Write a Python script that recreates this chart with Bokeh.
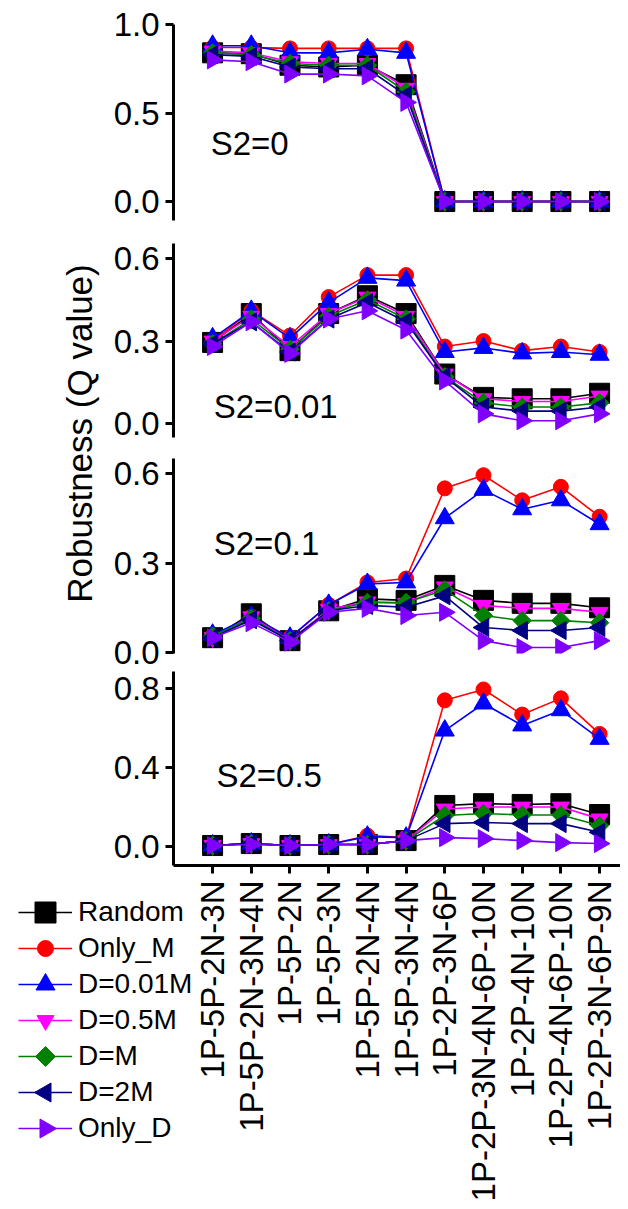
import math
from bokeh.plotting import figure
from bokeh.models import Range1d, FixedTicker, NumeralTickFormatter, Label, Legend, LegendItem
from bokeh.core.properties import value
from bokeh.layouts import column, row
from bokeh.embed import file_html
from bokeh.resources import INLINE

# ---------------- data ----------------
categories = ["1P-5P-2N-3N", "1P-5P-2N-3N-4N", "1P-5P-2N", "1P-5P-3N", "1P-5P-2N-4N",
              "1P-5P-3N-4N", "1P-2P-3N-6P", "1P-2P-3N-4N-6P-10N", "1P-2P-4N-10N",
              "1P-2P-4N-6P-10N", "1P-2P-3N-6P-9N"]
series_names = ["Random", "Only_M", "D=0.01M", "D=0.5M", "D=M", "D=2M", "Only_D"]
panel_titles = ["S2=0", "S2=0.01", "S2=0.1", "S2=0.5"]
y_label = "Robustness (Q value)"

# S2 = 0
random_s0 = [0.84, 0.835, 0.77, 0.76, 0.77, 0.66, 0, 0, 0, 0, 0]
only_m_s0 = [0.87, 0.87, 0.865, 0.865, 0.865, 0.865, 0, 0, 0, 0, 0]
d001m_s0 = [0.88, 0.88, 0.84, 0.84, 0.86, 0.84, 0, 0, 0, 0, 0]
d05m_s0 = [0.85, 0.84, 0.79, 0.78, 0.78, 0.64, 0, 0, 0, 0, 0]
dm_s0 = [0.84, 0.83, 0.78, 0.77, 0.77, 0.62, 0, 0, 0, 0, 0]
d2m_s0 = [0.83, 0.82, 0.76, 0.75, 0.75, 0.60, 0, 0, 0, 0, 0]
only_d_s0 = [0.80, 0.79, 0.72, 0.72, 0.71, 0.56, 0, 0, 0, 0, 0]

# S2 = 0.01
random_s1 = [0.295, 0.40, 0.265, 0.40, 0.465, 0.40, 0.18, 0.095, 0.09, 0.09, 0.11]
only_m_s1 = [0.30, 0.41, 0.32, 0.46, 0.54, 0.54, 0.28, 0.30, 0.265, 0.28, 0.26]
d001m_s1 = [0.31, 0.41, 0.31, 0.44, 0.53, 0.52, 0.26, 0.275, 0.255, 0.26, 0.25]
d05m_s1 = [0.30, 0.39, 0.28, 0.40, 0.46, 0.39, 0.18, 0.09, 0.08, 0.08, 0.10]
dm_s1 = [0.29, 0.38, 0.27, 0.39, 0.45, 0.38, 0.17, 0.075, 0.06, 0.06, 0.075]
d2m_s1 = [0.29, 0.37, 0.26, 0.38, 0.44, 0.37, 0.17, 0.06, 0.045, 0.045, 0.06]
only_d_s1 = [0.28, 0.37, 0.255, 0.38, 0.41, 0.34, 0.155, 0.035, 0.01, 0.01, 0.035]

# S2 = 0.1
random_s2 = [0.05, 0.13, 0.04, 0.14, 0.18, 0.175, 0.225, 0.175, 0.165, 0.165, 0.15]
only_m_s2 = [0.055, 0.12, 0.05, 0.16, 0.235, 0.248, 0.55, 0.594, 0.51, 0.555, 0.455]
d001m_s2 = [0.06, 0.12, 0.05, 0.16, 0.23, 0.235, 0.45, 0.545, 0.48, 0.51, 0.43]
d05m_s2 = [0.05, 0.12, 0.04, 0.145, 0.17, 0.165, 0.22, 0.158, 0.148, 0.148, 0.135]
dm_s2 = [0.055, 0.115, 0.04, 0.14, 0.168, 0.168, 0.21, 0.124, 0.107, 0.107, 0.10]
d2m_s2 = [0.05, 0.11, 0.04, 0.14, 0.158, 0.152, 0.19, 0.084, 0.074, 0.074, 0.084]
only_d_s2 = [0.05, 0.10, 0.035, 0.135, 0.148, 0.124, 0.135, 0.04, 0.017, 0.017, 0.04]

# S2 = 0.5
random_s3 = [0.005, 0.015, 0.005, 0.01, 0.01, 0.03, 0.208, 0.217, 0.213, 0.217, 0.162]
only_m_s3 = [0.005, 0.015, 0.005, 0.01, 0.055, 0.045, 0.74, 0.795, 0.668, 0.75, 0.57]
d001m_s3 = [0.005, 0.015, 0.005, 0.01, 0.05, 0.045, 0.587, 0.724, 0.613, 0.69, 0.545]
d05m_s3 = [0.005, 0.015, 0.005, 0.01, 0.01, 0.03, 0.19, 0.20, 0.20, 0.20, 0.14]
dm_s3 = [0.005, 0.015, 0.005, 0.01, 0.01, 0.03, 0.157, 0.167, 0.16, 0.16, 0.106]
d2m_s3 = [0.005, 0.015, 0.005, 0.01, 0.01, 0.03, 0.116, 0.122, 0.116, 0.116, 0.072]
only_d_s3 = [0.005, 0.01, 0.005, 0.01, 0.01, 0.03, 0.045, 0.04, 0.03, 0.02, 0.015]

yticks_s0 = [0.0, 0.5, 1.0]
yticks_s1 = [0.0, 0.3, 0.6]
yticks_s2 = [0.0, 0.3, 0.6]
yticks_s3 = [0.0, 0.4, 0.8]

panel_values = [
    [random_s0, only_m_s0, d001m_s0, d05m_s0, dm_s0, d2m_s0, only_d_s0],
    [random_s1, only_m_s1, d001m_s1, d05m_s1, dm_s1, d2m_s1, only_d_s1],
    [random_s2, only_m_s2, d001m_s2, d05m_s2, dm_s2, d2m_s2, only_d_s2],
    [random_s3, only_m_s3, d001m_s3, d05m_s3, dm_s3, d2m_s3, only_d_s3],
]
panel_ticks = [yticks_s0, yticks_s1, yticks_s2, yticks_s3]

# ---------------- styles / layout ----------------
FONT = "Liberation Sans"
colors = ["#000000", "#FF0000", "#0000FF", "#FF00FF", "#008000", "#000080", "#8000FF"]
markers = ["square", "circle", "triangle", "inverted_triangle", "square", "triangle", "triangle"]
marker_sizes = [20, 15, 19, 17, 13, 18, 18]
marker_angles = [0, 0, 0, 0, math.pi / 4, math.pi / 2, -math.pi / 2]
legend_marker_sizes = [21, 16, 19, 17, 14, 19, 19]

y_ranges = [(-0.107, 1.0), (-0.051, 0.655), (-0.003, 0.65), (-0.096, 0.886)]
frame_heights = [196, 194, 195, 194]
borders_top = [24, 6, 10, 0]
borders_bottom = [17, 11, 18, 10]
title_pos = [(-0.05, 0.33), (0.03, 0.062), (0.03, 0.366), (0.10, 0.36)]
X_RANGE = (-1.01, 10.54)
FRAME_W = 447
LABEL_COL_W = 100
LEFT_BORDER = 173
TOTAL_W = LEFT_BORDER + FRAME_W
BOTTOM_H = 334
LEGEND_W = 192
PX_PER_UNIT = FRAME_W / (X_RANGE[1] - X_RANGE[0])
LEGEND_TOP = 19          # px below top of bottom strip
LEGEND_ROW_H = 36
LEGEND_GLYPH_X = 18
LEGEND_GLYPH_W = 54

xs = list(range(len(categories)))


def style_axis(ax, size):
    ax.axis_line_width = 3
    ax.axis_line_color = "black"
    ax.major_tick_line_width = 3
    ax.major_tick_line_color = "black"
    ax.major_tick_out = 8
    ax.major_tick_in = 0
    ax.minor_tick_line_color = None
    ax.major_label_text_font = FONT
    ax.major_label_text_font_size = size
    ax.major_label_text_color = "black"
    ax.major_label_standoff = 6


def add_series(p, j, data_x, data_y):
    rl = p.line(data_x, data_y, line_color=colors[j], line_width=1.6)
    rs = p.scatter(data_x, data_y, marker=markers[j], size=marker_sizes[j], angle=marker_angles[j],
                   fill_color=colors[j], line_color=colors[j], line_width=1)
    return rl, rs


def blank_fig(w, h, xr, yr):
    f = figure(width=w, height=h, x_range=xr, y_range=yr,
               min_border=0, min_border_left=0, min_border_right=0,
               min_border_top=0, min_border_bottom=0,
               x_axis_location=None, y_axis_location=None,
               toolbar_location=None, output_backend="svg",
               outline_line_color=None, border_fill_color="white")
    f.xgrid.visible = False
    f.ygrid.visible = False
    return f


figs = []
for k in range(4):
    bottom = (k == 3)
    left = LEFT_BORDER if bottom else LEFT_BORDER - LABEL_COL_W
    p = figure(
        width=left + FRAME_W,
        height=borders_top[k] + frame_heights[k] + borders_bottom[k],
        x_range=Range1d(*X_RANGE), y_range=Range1d(*y_ranges[k]),
        min_border_left=left, min_border_right=0,
        min_border_top=borders_top[k], min_border_bottom=borders_bottom[k],
        x_axis_location="below" if bottom else None,
        y_axis_location="left",
        toolbar_location=None, output_backend="svg",
        outline_line_color=None, background_fill_color="white", border_fill_color="white",
    )
    p.xgrid.visible = False
    p.ygrid.visible = False
    style_axis(p.yaxis[0], "33px")
    p.yaxis[0].ticker = FixedTicker(ticks=panel_ticks[k])
    p.yaxis[0].formatter = NumeralTickFormatter(format="0.0")
    if bottom:
        ax = p.xaxis[0]
        style_axis(ax, "0px")
        ax.ticker = FixedTicker(ticks=xs)
        ax.major_label_overrides = {i: "" for i in xs}
        ax.major_label_standoff = 0

    for j in range(len(series_names)):
        add_series(p, j, xs, panel_values[k][j])

    tx, ty = title_pos[k]
    p.add_layout(Label(x=tx, y=ty, text=panel_titles[k], text_font=FONT, text_font_size="33px",
                       text_color="black", text_align="left", text_baseline="middle"))
    figs.append(p)

# --- bottom strip, left: legend ---
legend_fig = blank_fig(LEGEND_W, BOTTOM_H, Range1d(0, LEGEND_W), Range1d(0, BOTTOM_H))
n_series = len(series_names)
items = []
for j, name in enumerate(series_names):
    rl = legend_fig.line([float("nan")], [float("nan")], line_color=colors[j], line_width=1.6)
    items.append(LegendItem(label=name, renderers=[rl]))
legend_h = LEGEND_ROW_H * n_series
legend = Legend(items=items, location=(LEGEND_GLYPH_X, BOTTOM_H - LEGEND_TOP - legend_h),
                orientation="vertical", glyph_width=LEGEND_GLYPH_W, glyph_height=LEGEND_ROW_H,
                spacing=0, label_standoff=6, padding=0, margin=0,
                border_line_color=None, background_fill_alpha=0,
                label_text_font=FONT, label_text_font_size="28px",
                label_text_color="black", label_height=20)
legend_fig.add_layout(legend)
# legend symbols (drawn above the legend lines, with their rotation)
row_y = [BOTTOM_H - LEGEND_TOP - LEGEND_ROW_H * (j + 0.5) for j in range(n_series)]
legend_fig.scatter(x=[LEGEND_GLYPH_X + LEGEND_GLYPH_W / 2] * n_series, y=row_y,
                   marker=markers, size=legend_marker_sizes, angle=marker_angles,
                   fill_color=colors, line_color=colors, line_width=1, level="overlay")

# --- bottom strip, right: category labels on the same x scale ---
labels_fig = blank_fig(TOTAL_W - LEGEND_W, BOTTOM_H,
                       Range1d(X_RANGE[0] + (LEGEND_W - LEFT_BORDER) / PX_PER_UNIT, X_RANGE[1]),
                       Range1d(0, BOTTOM_H))
labels_fig.text(x=xs, y=[BOTTOM_H - 5] * len(xs), text=categories, angle=math.pi / 2,
                text_align="right", text_baseline="middle",
                text_font=value(FONT), text_font_size="33px", text_color="black")

# --- y axis title column ---
top_h = sum(borders_top[k] + frame_heights[k] + borders_bottom[k] for k in range(3))
label_fig = blank_fig(LABEL_COL_W, top_h, Range1d(0, LABEL_COL_W), Range1d(0, top_h))
label_fig.add_layout(Label(x=79, y=top_h - 433, text=y_label, angle=math.pi / 2,
                           text_font=FONT, text_font_size="35px", text_color="black",
                           text_align="center", text_baseline="middle"))

layout = column(row(label_fig, column(figs[0], figs[1], figs[2])), figs[3],
                row(legend_fig, labels_fig))

open("out.html", "w").write(file_html(layout, INLINE))
